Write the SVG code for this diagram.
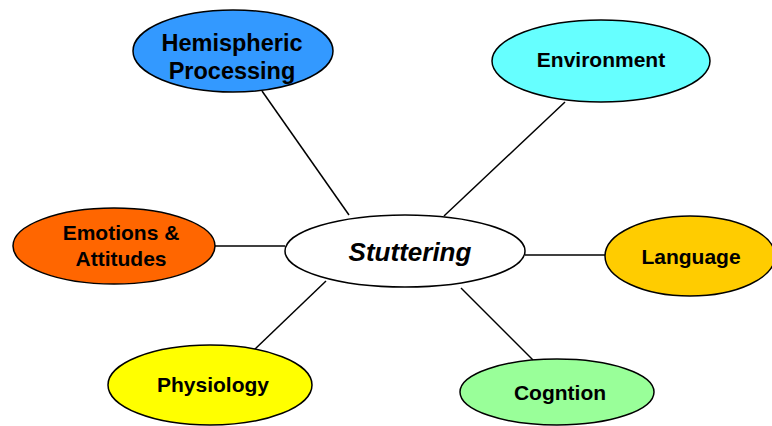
<svg xmlns="http://www.w3.org/2000/svg" width="772" height="426" viewBox="0 0 772 426">
<style>
.node ellipse{stroke:#000;stroke-width:1.5}
.lbl{font-family:"Liberation Sans",Arial,sans-serif;font-weight:bold;font-size:21px;text-anchor:middle;fill:#000}
.conn line{stroke:#000;stroke-width:1.5}
</style>
<rect width="772" height="426" fill="#fff"/>
<g id="connectors" class="conn">
<line x1="262" y1="91" x2="349" y2="215"/>
<line x1="565" y1="102" x2="444" y2="216"/>
<line x1="215" y1="246" x2="285" y2="246"/>
<line x1="525" y1="255" x2="605" y2="255"/>
<line x1="253" y1="351" x2="326" y2="281"/>
<line x1="461" y1="288" x2="533" y2="360"/>
</g>
<g id="stuttering" class="node">
<ellipse cx="405" cy="251" rx="120" ry="36" fill="#fff"/>
<text x="410" y="261" class="lbl" style="font-size:26px;font-style:italic">Stuttering</text>
</g>
<g id="hemispheric" class="node">
<ellipse cx="233" cy="51" rx="100" ry="41" fill="#3399FF"/>
<text x="232" y="51" class="lbl" style="font-size:23.5px">Hemispheric</text>
<text x="232" y="79" class="lbl" style="font-size:23.5px">Processing</text>
</g>
<g id="environment" class="node">
<ellipse cx="601" cy="61" rx="109" ry="41" fill="#66FFFF"/>
<text x="601" y="67" class="lbl">Environment</text>
</g>
<g id="emotions" class="node">
<ellipse cx="114" cy="246" rx="101" ry="38" fill="#FF6600"/>
<text x="121" y="240" class="lbl">Emotions &amp;</text>
<text x="121" y="266" class="lbl">Attitudes</text>
</g>
<g id="language" class="node">
<ellipse cx="690" cy="256" rx="85" ry="40" fill="#FFCC00"/>
<text x="691" y="264" class="lbl">Language</text>
</g>
<g id="physiology" class="node">
<ellipse cx="210" cy="385" rx="102" ry="40" fill="#FFFF00"/>
<text x="213" y="392" class="lbl">Physiology</text>
</g>
<g id="cognition" class="node">
<ellipse cx="557" cy="392" rx="97" ry="33" fill="#99FF99"/>
<text x="560" y="400" class="lbl">Cogntion</text>
</g>
</svg>
